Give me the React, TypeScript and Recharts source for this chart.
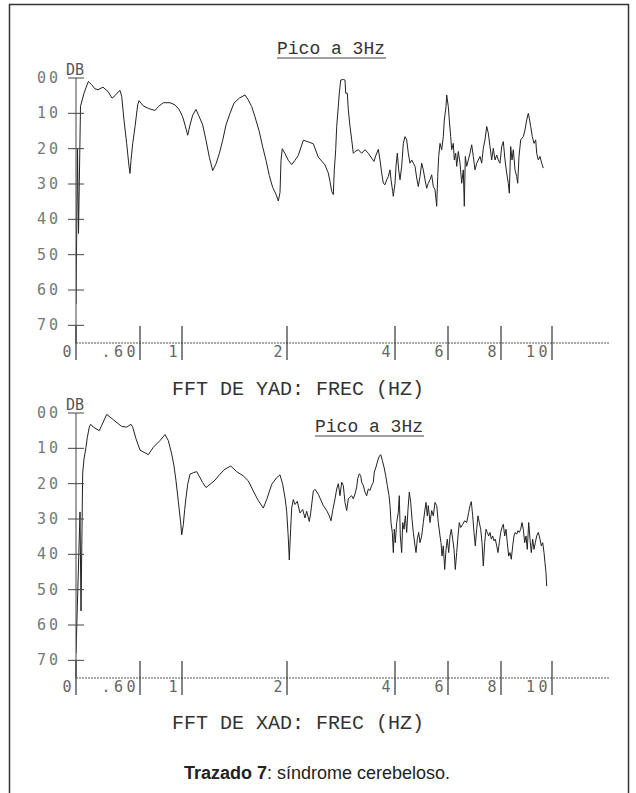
import { LineChart, Line, XAxis, YAxis } from 'recharts';

// frequency axis is not linear: ticks sit at these positions along the axis (0..534)
const X_TICK_POS = [0, 64, 106, 211, 319, 372, 425, 476];
const X_TICK_LABELS = ['0', '.60', '1', '2', '4', '6', '8', '10'];
const DB_TICKS = [0, 10, 20, 30, 40, 50, 60, 70];

// FFT DE YAD
const YAD_POS = [
  0, 1.5, 2.5, 4.5, 8, 12.3, 15.7, 19, 22, 27, 32, 36, 39, 41, 44, 45.7, 48, 50.7, 53, 54, 55, 56.7, 59, 61.7, 63,
  67.3, 72.3, 79, 82.3, 87.3, 94, 99, 103.3, 106.7, 109, 111.7, 114, 116.7, 120, 123.3, 126.7, 130, 133.3, 136.7,
  140, 143.3, 146.7, 150, 154, 158, 163.3, 169, 172.3, 175.7, 179, 183.3, 186.7, 190, 193.3, 196.7, 200, 202.3,
  204, 205, 206.3, 209, 212.3, 215.7, 219, 222.3, 227.3, 232.3, 237.3, 242.3,
  249, 252.3, 254, 255.7, 257.3, 258.3, 259.7, 260.7, 262.3, 263.3, 264.7, 267.3, 269, 269.7, 271.3, 272.3, 274,
  275.7, 277.3, 279, 282.3, 285.7, 289, 292.3, 295.7, 298, 300, 302.3, 304, 305.7, 307.3, 309, 310.7, 312.3, 314,
  315, 316.7, 317.3, 319, 320, 321.3, 322.7, 324, 325.7, 327.3, 329, 330.7, 332.3, 334, 335.7, 337.3, 339, 340.7,
  342.3, 344, 345.7, 347.3, 349, 350.7, 352.3, 354, 355.7, 357.3, 359, 360.7, 361.7, 362.7, 364, 365.7, 367.3,
  368.3, 370, 370.7, 372.3, 373.3, 374.7, 375.7, 377.3, 378.3, 379.7, 380.7, 382.3, 384, 385.7, 387.3, 388.3,
  389.3, 390.7, 392.3, 394, 395.7, 397.3, 399, 400.7, 402.3, 404, 405.7, 407.3, 409, 410.7, 412.3, 414, 415.7,
  417.3, 419, 420.7, 422.3, 424, 425.7, 427.3, 429, 430.7, 432.3, 433.3, 434.7, 436, 437.3, 439, 440.7, 441.7,
  443, 444.7, 447.3, 449, 450.7, 452.3, 453.3, 454.7, 456.3, 458, 459.7, 460.7, 462.3, 464, 465.7, 467.3,
];
const YAD_DB = [
  64, 20, 44, 8, 4.3, 1, 1.9, 3.1, 3.3, 2.6, 3.8, 5.7, 5, 4.3, 3.5, 5.2, 11.9, 18.6, 25, 27, 23.3, 18.6, 13.8, 7.6, 6.4,
  7.9, 8.6, 9.2, 8.1, 7, 7, 7.6, 9, 11, 13.3, 16.2, 13.3, 10.5, 8.9, 11, 13.3, 17.6, 22.4, 26.2,
  24.3, 21.4, 17.6, 13.3, 10, 7.1, 5.7, 4.8, 6.2, 8.1, 11, 15.2, 19.5, 23.3, 27.6, 31, 32.9, 34.8,
  32.4, 23.3, 20, 21.4, 23.3, 24.5, 23.3, 21.9, 17.6, 18.1, 18.6, 22.4,
  24.6, 26.9, 29.3, 32.1, 33, 26, 20.3, 13.7, 8.1, 4.3, 0.6, 0.4, 0.6, 4.3, 4.3, 9, 13.7,
  17.5, 21.3, 20.8, 20.3, 21.3, 20.3, 21.3, 22.7, 23.6, 21.8, 20.2, 23.2, 26.9, 29.8, 30.2, 28.8, 27.9, 26,
  28.8, 32.1, 33.5, 29.8, 25, 21.3, 26, 28.8, 25, 18.5, 16.6, 17.5, 21.3, 24.1, 23.2, 24.1, 25, 28.3,
  30.7, 27.9, 24.1, 26, 28.8, 31.2, 29.8, 28.8, 27.4, 30.7, 31.6, 36.3, 27.9, 22.2, 18.5, 20.3, 16.6,
  11.9, 8.1, 4.8, 8.1, 11.9, 16.6, 20.3, 18.5, 23.2, 21.3, 25, 20.8, 24.1, 29.8, 26, 36.3,
  22.2, 25, 23.2, 21.3, 18.9, 22.2, 26, 24.1, 23.2, 22.2, 24.1, 19.9, 17.5, 13.7, 15.6, 19.4, 23.2,
  19.9, 23.2, 21.8, 23.2, 24.1, 19.4, 18, 23.2, 26.9, 29.8, 32.6, 19.4, 23.2, 20.3, 26, 27.9, 29.8,
  22.2, 17.5, 16.6, 14.7, 11.9, 10, 11.4, 13.7, 16.6, 18.5, 17.5, 21.3, 23.2, 22.2, 24.1, 25.5,
];

// FFT DE XAD
const XAD_POS = [
  0, 4, 5, 6.7, 8, 10, 11.3, 13.3, 14.7, 17.3, 23.3, 30.7, 37.3, 45.7, 50.7, 55, 56.7, 60, 64, 72.3, 77.3, 84, 89,
  92.3, 95.7, 98, 100, 102.3, 104.7, 105.7, 107.3, 108.7, 110, 111.7, 114, 117.3, 120.7, 124, 126.7, 130, 134, 139,
  144, 149, 154.7, 160.7, 167.3, 172.3, 177.3, 182.3, 187.3, 190.7, 195.7, 200.7, 204, 206.7, 209, 210.7, 212.3,
  213.3, 214.7, 215.7, 217.3, 219, 221.3, 224, 226.7, 229, 230.7, 233.3, 234.7, 237.3, 239, 242.3,
  247.3, 250.7, 253.3, 255, 256.7, 259, 260.7, 262.3, 264, 265.7, 267.3, 269, 270.7, 272.3, 274, 275.7, 277.3,
  279, 280.7, 281.7, 283.3, 284.7, 285.7, 287.3, 289, 290.7, 292.3, 294, 295.7, 297.3, 298.3, 300, 301.3, 303,
  304.7, 306.3, 308, 309.7, 311.3, 313, 314, 315, 316.3, 317.3, 318.3, 319.3, 320.7, 322.3, 323.3, 324.3, 325.7,
  326.7, 328, 329.3, 330.7, 332, 333.3, 334.7, 336, 337.3, 339, 340, 341.3, 342.7, 344, 345.7, 347.3, 349, 350,
  351.3, 352.3, 354, 355.7, 357.3, 359, 360.7, 362.3, 364, 365, 366, 367.3, 368.7, 370, 371.3, 372.7, 374, 375.3,
  376.7, 378, 379.3, 380.7, 382, 383.3, 384.7, 386.7, 388.7, 390.7, 392.7, 394, 395.3, 396.7, 398, 399.3, 400.7,
  402, 403.3, 404.7, 406, 407.3, 408.7, 410, 411.3, 412.7, 414, 415.3, 416.7, 418, 419.3, 420.7, 422, 423.3,
  424.7, 426, 427.3, 428.7, 430, 431.3, 432.7, 434, 435.3, 436.7, 438, 439.3, 440.7, 442, 443.3, 444.7, 446,
  447.3, 448.7, 450, 451.3, 452.7, 454, 455.3, 456.7, 458, 459.3, 460.7, 462.3, 464, 465.3, 466.7, 468, 469, 470,
  470.7,
];
const XAD_DB = [
  68, 28, 56, 17, 13, 9.7, 6.9, 4, 3.2, 4, 5, 0.4, 1.9, 3.8, 4, 3.2, 4, 7.3, 10.5, 11.8, 9.7, 7.8, 6.1,
  7.8, 11.6, 15, 19.2, 25, 31.1, 34.5, 31.6, 27.3, 24, 20.2, 17.3, 16.9, 16.6, 18.3, 19.7, 21.1, 20.2, 19,
  17.3, 15.9, 15, 16.6, 17.8, 19.2, 22.1, 24.8, 26.9, 24.5, 20.2, 18.3, 17.5, 20.2, 24, 27.8, 35.4,
  41.6, 32.6, 26.9, 24.5, 25.9, 25, 28.3, 27.3, 29.7, 27.8, 30.7, 28.3, 22.1, 21.6, 23,
  26.2, 27.6, 29.1, 30.5, 27.6, 24.3, 21.5, 20, 23.4, 19.6, 20.5, 25.3, 27.6, 24.3, 23.8, 23.4, 24.3,
  22.9, 21, 18.6, 17.2, 17.7, 19.6, 20.5, 22.4, 23.4, 21.5, 21.9, 20.5, 19.6, 16.7, 15.3, 13.9, 12.4,
  11.8, 13.4, 15.3, 17.7, 20.5, 23.4, 26.2, 31, 33.8, 39.5, 32.9, 36.7, 31, 28.1, 23.4, 34.8, 39.5,
  31, 32.9, 29.1, 33.8, 27.2, 22.4, 25.3, 30, 33.8, 37.6, 39.5, 35.7, 33.8, 36.7, 34.8, 31, 27.2, 25.3,
  29.1, 26.2, 31, 27.6, 29.1, 25.3, 26.2, 31, 34.8, 36.7, 40.5, 37.6, 44.3, 38.6, 35.7, 39.5, 34.8, 32.9,
  35.7, 38.6, 44.3, 39.5, 34.8, 31, 32.4, 31.5, 30.5, 31, 28.1, 26.2, 25.1, 29.1, 33.8, 37.6, 32.9,
  29.1, 31, 32.9, 36.7, 43.3, 36.7, 32.9, 33.8, 34.8, 33.8, 35.7, 34.8, 36.2, 35.7, 37.6, 39.5, 36.7,
  33.8, 32.4, 31.5, 34.8, 32.9, 36.7, 40.5, 39.5, 41.4, 37.6, 34.8, 33.8, 34.3, 33.3, 33.8, 32.9, 31,
  32.9, 36.7, 34.8, 38.6, 31, 35.7, 39.5, 35.7, 38.6, 36.7, 34.8, 33.8, 35.7, 37.6, 36.7, 39.5, 42.4, 45.2,
  49,
];

const MONO = '"DejaVu Sans Mono", monospace';
const COURIER = '"Liberation Mono", monospace';

function FreqTick(props: any) {
  const { x, y, payload } = props;
  const label = X_TICK_LABELS[X_TICK_POS.indexOf(payload.value)];
  return (
    <g>
      <line x1={x} x2={x} y1={y - 17} y2={y + 17} stroke="#333" strokeWidth={1.2} />
      <text x={x - 1} y={y + 14} textAnchor="end" fontFamily={MONO} fontSize={15} letterSpacing={3.5} fill="#666">
        {label}
      </text>
    </g>
  );
}

function DbTick(props: any) {
  const { x, y, payload } = props;
  const v = payload.value as number;
  return (
    <g>
      <line x1={x - 8} x2={x + 8} y1={y} y2={y} stroke="#444" strokeWidth={1} />
      <text x={x - 15} y={y + 5} textAnchor="end" fontFamily={MONO} fontSize={15} letterSpacing={3} fill="#777">
        {v === 0 ? '00' : String(v)}
      </text>
    </g>
  );
}

function FftChart({ pos, db, top }: { pos: number[]; db: number[]; top: number }) {
  const data = pos.map((u, i) => ({ u, db: db[i] }));
  return (
    <div style={{ position: 'absolute', left: 0, top }}>
      <LineChart width={636} height={400} data={data} margin={{ top: 78, right: 26, bottom: 27, left: 16 }}>
        <XAxis type="number" dataKey="u" domain={[0, 534]} ticks={X_TICK_POS} interval={0} allowDataOverflow
          tick={(p: any) => <FreqTick {...p} />} tickLine={false} tickSize={0} tickMargin={0} height={30}
          axisLine={{ stroke: '#555', strokeWidth: 1, strokeDasharray: '2 1' }} />
        <YAxis type="number" domain={[0, 75]} reversed ticks={DB_TICKS} interval={0} width={60}
          tick={(p: any) => <DbTick {...p} />} tickLine={false} tickSize={0} tickMargin={0}
          axisLine={{ stroke: '#444', strokeWidth: 1 }} />
        <Line type="linear" dataKey="db" stroke="#222" strokeWidth={1} dot={false} isAnimationActive={false} />
      </LineChart>
    </div>
  );
}

export default function App() {
  return (
    <div style={{ position: 'absolute', left: 0, top: 0, width: 636, height: 793, overflow: 'hidden', background: '#fff' }}>
      <svg width={636} height={793} style={{ position: 'absolute', left: 0, top: 0 }}>
        <rect x={9.5} y={4.5} width={619} height={820} fill="none" stroke="#333" strokeWidth={1.5} />
        <text x={277} y={54} fontFamily={COURIER} fontSize={18} fill="#333">Pico a 3Hz</text>
        <line x1={277} x2={386} y1={58} y2={58} stroke="#444" strokeWidth={1} />
        <text x={75} y={75} textAnchor="middle" fontFamily={MONO} fontSize={15} fill="#555">DB</text>
        <text x={172} y={395} fontFamily={COURIER} fontSize={20} fill="#333">FFT DE YAD: FREC (HZ)</text>
        <text x={315} y={432} fontFamily={COURIER} fontSize={18} fill="#333">Pico a 3Hz</text>
        <line x1={315} x2={424} y1={436} y2={436} stroke="#444" strokeWidth={1} />
        <text x={75} y={410} textAnchor="middle" fontFamily={MONO} fontSize={15} fill="#555">DB</text>
        <text x={172} y={729} fontFamily={COURIER} fontSize={20} fill="#333">FFT DE XAD: FREC (HZ)</text>
        <text x={317} y={779} textAnchor="middle" fontFamily='"Liberation Sans", Arial, sans-serif' fontSize={18} fill="#222">
          <tspan fontWeight="bold">Trazado 7</tspan>: síndrome cerebeloso.
        </text>
      </svg>
      <FftChart pos={YAD_POS} db={YAD_DB} top={0} />
      <FftChart pos={XAD_POS} db={XAD_DB} top={335} />
    </div>
  );
}
